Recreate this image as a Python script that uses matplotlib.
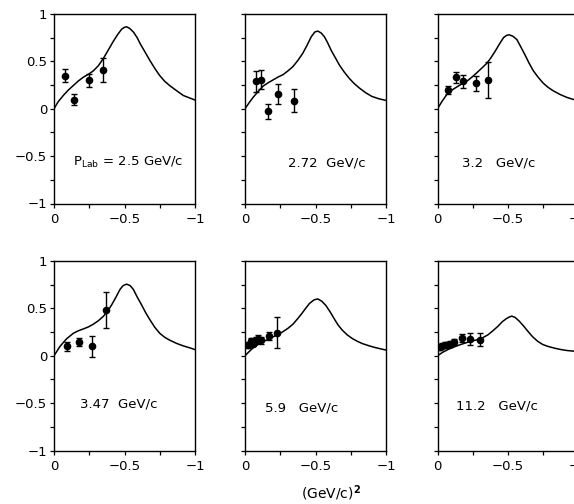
import matplotlib
matplotlib.use("Agg")
import matplotlib.pyplot as plt
import numpy as np

plt.rcParams['font.family'] = ['DejaVu Sans']
plt.rcParams['mathtext.fontset'] = 'dejavusans'

# ---------------- data ----------------
labels = [r"P$_{\rm Lab}$ = 2.5 GeV/c", "2.72  GeV/c", "3.2   GeV/c",
          "3.47  GeV/c", "5.9   GeV/c", "11.2   GeV/c"]

curve1_t = [0, -0.03, -0.066, -0.10, -0.137, -0.17, -0.208, -0.245, -0.279, -0.315, -0.35, -0.385, -0.42, -0.45, -0.48, -0.50, -0.515, -0.535, -0.563, -0.59, -0.61, -0.645, -0.68, -0.715, -0.75, -0.785, -0.82, -0.87, -0.917, -0.96, -1]
curve1_y = [0, 0.075, 0.14, 0.195, 0.245, 0.29, 0.333, 0.365, 0.40, 0.455, 0.53, 0.62, 0.71, 0.78, 0.84, 0.86, 0.865, 0.85, 0.81, 0.75, 0.69, 0.60, 0.51, 0.425, 0.35, 0.29, 0.245, 0.19, 0.14, 0.115, 0.092]

curve2_t = [0, -0.03, -0.059, -0.095, -0.129, -0.165, -0.2, -0.235, -0.27, -0.305, -0.34, -0.375, -0.41, -0.44, -0.47, -0.495, -0.516, -0.54, -0.563, -0.585, -0.61, -0.64, -0.67, -0.705, -0.74, -0.775, -0.81, -0.855, -0.90, -0.95, -1]
curve2_y = [0, 0.065, 0.123, 0.185, 0.24, 0.275, 0.305, 0.335, 0.36, 0.40, 0.445, 0.51, 0.586, 0.67, 0.76, 0.81, 0.82, 0.80, 0.76, 0.70, 0.62, 0.54, 0.46, 0.385, 0.32, 0.265, 0.22, 0.17, 0.13, 0.105, 0.088]

curve3_t = [0, -0.033, -0.066, -0.10, -0.137, -0.17, -0.208, -0.245, -0.279, -0.315, -0.35, -0.38, -0.41, -0.44, -0.468, -0.49, -0.51, -0.535, -0.563, -0.59, -0.62, -0.65, -0.68, -0.715, -0.75, -0.785, -0.82, -0.87, -0.917, -0.96, -1]
curve3_y = [0, 0.08, 0.15, 0.195, 0.23, 0.26, 0.29, 0.335, 0.38, 0.43, 0.48, 0.54, 0.61, 0.685, 0.75, 0.775, 0.78, 0.765, 0.73, 0.655, 0.57, 0.48, 0.40, 0.33, 0.27, 0.225, 0.19, 0.15, 0.12, 0.10, 0.085]

curve4_t = [0, -0.043, -0.09, -0.137, -0.17, -0.208, -0.245, -0.279, -0.315, -0.35, -0.38, -0.41, -0.44, -0.468, -0.49, -0.515, -0.54, -0.563, -0.59, -0.62, -0.65, -0.68, -0.715, -0.75, -0.785, -0.82, -0.87, -0.917, -0.96, -1]
curve4_y = [0, 0.10, 0.18, 0.237, 0.262, 0.283, 0.305, 0.333, 0.37, 0.416, 0.47, 0.54, 0.62, 0.70, 0.74, 0.756, 0.74, 0.70, 0.62, 0.54, 0.455, 0.38, 0.30, 0.237, 0.195, 0.165, 0.13, 0.104, 0.085, 0.065]

curve5_t = [0, -0.03, -0.059, -0.095, -0.129, -0.165, -0.2, -0.235, -0.27, -0.305, -0.34, -0.37, -0.40, -0.43, -0.458, -0.49, -0.516, -0.545, -0.575, -0.605, -0.634, -0.66, -0.69, -0.725, -0.763, -0.80, -0.833, -0.88, -0.927, -0.965, -1]
curve5_y = [0, 0.045, 0.085, 0.12, 0.149, 0.175, 0.2, 0.225, 0.255, 0.29, 0.333, 0.385, 0.44, 0.50, 0.553, 0.59, 0.60, 0.575, 0.528, 0.46, 0.387, 0.325, 0.27, 0.22, 0.18, 0.15, 0.128, 0.105, 0.085, 0.072, 0.06]

curve6_t = [0, -0.035, -0.073, -0.11, -0.144, -0.18, -0.215, -0.25, -0.286, -0.32, -0.357, -0.39, -0.428, -0.46, -0.487, -0.51, -0.527, -0.55, -0.58, -0.61, -0.64, -0.675, -0.71, -0.745, -0.78, -0.83, -0.877, -0.92, -0.97, -1]
curve6_y = [0, 0.035, 0.065, 0.088, 0.108, 0.126, 0.143, 0.157, 0.17, 0.19, 0.22, 0.26, 0.31, 0.36, 0.39, 0.41, 0.418, 0.405, 0.365, 0.315, 0.26, 0.20, 0.153, 0.12, 0.10, 0.08, 0.065, 0.055, 0.048, 0.045]

pts1_t = [-0.078, -0.144, -0.246, -0.345]
pts1_y = [0.35, 0.096, 0.30, 0.41]
pts1_e = [0.065, 0.06, 0.07, 0.125]

pts2_t = [-0.075, -0.113, -0.164, -0.235, -0.345]
pts2_y = [0.288, 0.305, -0.028, 0.158, 0.084]
pts2_e = [0.11, 0.10, 0.08, 0.105, 0.12]

pts3_t = [-0.071, -0.13, -0.184, -0.27, -0.36]
pts3_y = [0.196, 0.333, 0.29, 0.27, 0.30]
pts3_e = [0.045, 0.06, 0.07, 0.08, 0.19]

pts4_t = [-0.095, -0.177, -0.272, -0.371]
pts4_y = [0.10, 0.147, 0.10, 0.487]
pts4_e = [0.045, 0.04, 0.11, 0.19]

pts5_t = [-0.023, -0.04, -0.059, -0.075, -0.094, -0.117, -0.171, -0.23]
pts5_y = [0.113, 0.156, 0.128, 0.167, 0.18, 0.163, 0.21, 0.245]
pts5_e = [0.03, 0.035, 0.03, 0.035, 0.035, 0.035, 0.04, 0.16]

pts6_t = [-0.017, -0.035, -0.054, -0.073, -0.092, -0.12, -0.173, -0.227, -0.30]
pts6_y = [0.093, 0.108, 0.115, 0.118, 0.122, 0.146, 0.19, 0.178, 0.171]
pts6_e = [0.03, 0.03, 0.03, 0.03, 0.03, 0.035, 0.04, 0.06, 0.07]

curves = [(curve1_t, curve1_y), (curve2_t, curve2_y), (curve3_t, curve3_y),
          (curve4_t, curve4_y), (curve5_t, curve5_y), (curve6_t, curve6_y)]
points = [(pts1_t, pts1_y, pts1_e), (pts2_t, pts2_y, pts2_e), (pts3_t, pts3_y, pts3_e),
          (pts4_t, pts4_y, pts4_e), (pts5_t, pts5_y, pts5_e), (pts6_t, pts6_y, pts6_e)]

label_pos = [(-0.135, -0.57), (-0.305, -0.57), (-0.177, -0.57),
             (-0.184, -0.505), (-0.14, -0.55), (-0.128, -0.53)]

yticks_major = [-1, -0.5, 0, 0.5, 1]
ytick_labels = ["\u22121", "\u22120.5", "0", "0.5", "1"]
xticks_major = [0, -0.5, -1]
xtick_labels = ["0", "\u22120.5", "\u22121"]

# ---------------- layout ----------------
W, H = 574, 504
fig = plt.figure(figsize=(W / 100, H / 100), dpi=100)

col_left = [54, 245, 437.5]
row_top = [14, 261]
ax_w, ax_h = 141, 189.5

for i in range(6):
    r, c = divmod(i, 3)
    left = col_left[c] / W
    bottom = (H - row_top[r] - ax_h) / H
    ax = fig.add_axes([left, bottom, ax_w / W, ax_h / H])
    ax.set_xlim(0, -1)
    ax.set_ylim(-1, 1)
    ct, cy = curves[i]
    ax.plot(ct, cy, color='black', lw=1.1)
    pt, py, pe = points[i]
    ax.errorbar(pt, py, yerr=pe, fmt='o', color='black', ms=4.5,
                elinewidth=1.0, capsize=2.5, capthick=1.0)
    lx, ly = label_pos[i]
    ax.text(lx, ly, labels[i], fontsize=9.5, ha='left', va='center')

    ax.set_yticks(yticks_major)
    ax.set_yticks([-0.75, -0.25, 0.25, 0.75], minor=True)
    ax.set_xticks(xticks_major)
    ax.set_xticks([-0.25, -0.75], minor=True)
    ax.set_xticklabels(xtick_labels, fontsize=9.5)
    if c == 0:
        ax.set_yticklabels(ytick_labels, fontsize=9.5)
    else:
        ax.set_yticklabels([])
    ax.tick_params(which='both', direction='out', length=3, width=0.9,
                   top=False, right=False)
    ax.tick_params(axis='y', pad=2)
    ax.tick_params(axis='x', pad=4)
    for s in ax.spines.values():
        s.set_linewidth(1.0)

fig.text(331 / W, 1 - 493 / H, "(GeV/c)$^{\\mathbf{2}}$", fontsize=10,
         ha='center', va='center')

fig.savefig("out.png", dpi=100)
